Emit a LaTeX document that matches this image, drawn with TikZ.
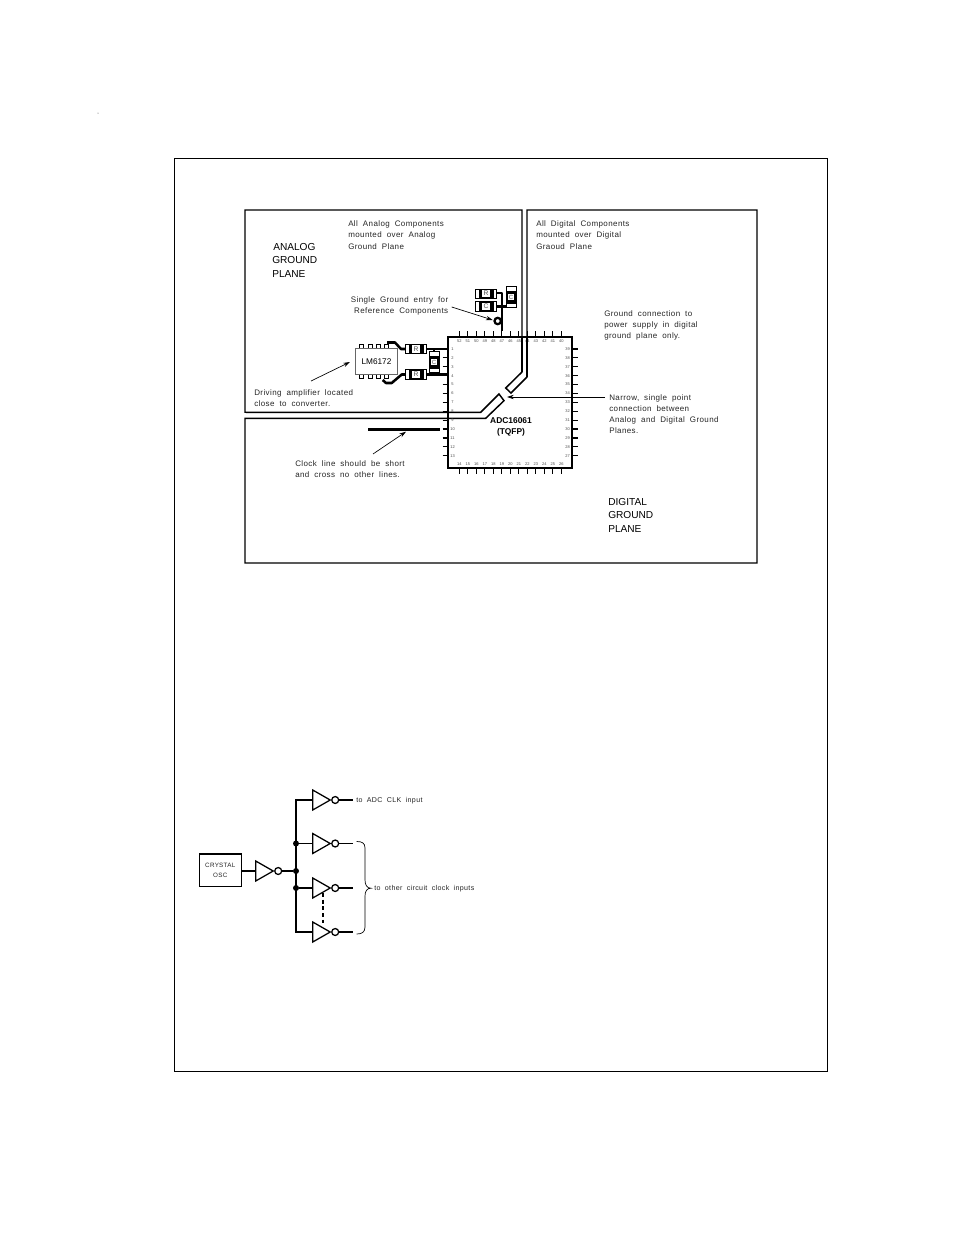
\documentclass[tikz,border=0pt]{standalone}
\usepackage{fontspec}
\setmainfont{Liberation Sans}
\newfontfamily\spaced[LetterSpace=5,WordSpace=1.9]{Liberation Sans}
\usetikzlibrary{arrows.meta,calc}
\tikzset{
  x=0.75pt,y=-0.75pt,
  plane/.style={line width=1.1pt,black,line join=miter},
  wire/.style={line width=0.95pt,black},
  fat/.style={line width=1.9pt,black,line join=round},
  pinl/.style={line width=0.9pt,black},
  note/.style={inner sep=0pt,anchor=west,font=\spaced\fontsize{6}{6}\selectfont,text=black!85},
  noter/.style={note,anchor=east},
  small/.style={note,font=\spaced\fontsize{5.3}{6}\selectfont},
  big/.style={inner sep=0pt,anchor=west,font=\fontsize{7.6}{8}\selectfont},
  num/.style={inner sep=0pt,font=\fontsize{3}{3}\selectfont,text=black!70},
  ptr/.style={line width=0.5pt,black,-{Stealth[length=5pt,width=3.2pt]}},
  part/.style={draw=black,line width=0.6pt,fill=white},
  dotn/.style={circle,fill=black,inner sep=0pt,minimum size=4.5pt},
}
\newcommand\hpart[4]{%
  \node[part,minimum width=16pt,minimum height=7pt,inner sep=0pt] (#1) at (#2,#3) {};
  \fill[black] (#2-7.5,#3-4.6) rectangle (#2+7.5,#3+4.6);
  \node[fill=white,inner sep=0pt,minimum width=5.5pt,minimum height=5.5pt,font=\fontsize{5}{5}\selectfont,text=black!70] (#1l) at (#2,#3) {#4};
}
\newcommand\vpart[4]{%
  \node[part,minimum width=7.4pt,minimum height=16pt,inner sep=0pt] (#1) at (#2,#3) {};
  \fill[black] (#2-4.9,#3-6.5) rectangle (#2+4.9,#3+6.5);
  \node[fill=white,inner sep=0pt,minimum width=5pt,minimum height=5pt,font=\fontsize{4.5}{5}\selectfont,text=black!70] (#1l) at (#2,#3) {#4};
}
\newcommand\invgate[3]{%
  \coordinate (#1in) at (#2,#3);
  \draw[wire,line join=miter] (#2,#3-10) -- (#2+17.5,#3) -- (#2,#3+10) -- cycle;
  \node[circle,draw=black,line width=0.95pt,inner sep=0pt,minimum size=5.2pt,fill=white] (#1b) at (#2+22.5,#3) {};
}
\begin{document}
\begin{tikzpicture}
\useasboundingbox (0,0) rectangle (954,1235);
\fill[white] (0,0) rectangle (954,1235);
\fill[black!70] (98,113) circle (0.5);
\draw[line width=0.6pt] (174,158) rectangle (827.5,1071);

% ground planes
\draw[plane] (245,412.3) -- (480.7,412.3) -- (499,394) -- (504,400.7) -- (485.7,418.3) -- (245,418.3) -- (245,563) -- (757,563) -- (757,210) -- (527,210) -- (527,377) -- (511,393) -- (505.7,388) -- (522,372) -- (522,210) -- (245,210) -- cycle;
\fill[white] (246,413.2) rectangle (244,417.4);

% chip
\draw[line width=1.3pt] (448.3,336.7) coordinate (chipnw) rectangle (572.3,468) coordinate (chipse);
\foreach \i/\t/\b in {0/52/14,1/51/15,2/50/16,3/49/17,4/48/18,5/47/19,6/46/20,7/45/21,8/44/22,9/43/23,10/42/24,11/41/25,12/40/26}{
  \pgfmathsetmacro\xx{459.3+8.5*\i}
  \draw[pinl] (\xx,331) -- (\xx,336.7);
  \draw[pinl] (\xx,468) -- (\xx,474);
  \node[num] at (\xx,341.5) {\t};
  \node[num] at (\xx,463.8) {\b};
}
\foreach \i/\l/\r in {0/1/39,1/2/38,2/3/37,3/4/36,4/5/35,5/6/34,6/7/33,7/8/32,8/9/31,9/10/30,10/11/29,11/12/28,12/13/27}{
  \pgfmathsetmacro\yy{349+8.89*\i}
  \draw[pinl] (442.5,\yy) -- (448.3,\yy);
  \draw[pinl] (572.3,\yy) -- (578,\yy);
  \node[num] at (452.5,\yy) {\l};
  \node[num] at (567.5,\yy) {\r};
}
\draw[plane] (522,336) -- (522,372);
\draw[plane] (527,336) -- (527,377);
\node[inner sep=0pt,align=center,font=\fontsize{6.3}{7.6}\selectfont\bfseries] (chiplabel) at (511,427) {ADC16061\\(TQFP)};

% reference components
\coordinate (gndtop) at (502,293);
\coordinate (gndbot) at (502,331);
\draw[fat] (497,293) -- (gndtop) -- (gndbot);
\draw[fat] (497,306.5) -- (507,306.5);
\node[circle,draw=black,line width=1.7pt,inner sep=0pt,minimum size=4.8pt,fill=white] (gndring) at (497.7,321) {};
\draw[fat] (gndring) -- (502,321);
\hpart{r1}{486}{293.7}{R}
\hpart{c1}{486}{306.5}{C}
\vpart{c2}{511}{297}{C}

% amplifier
\foreach \xx in {361.5,370,378,386.5}{
  \draw[line width=0.5pt] (\xx-2,344.5) rectangle (\xx+2,348.7);
  \draw[line width=0.5pt] (\xx-2,374.3) rectangle (\xx+2,378.5);
}
\node[draw=black!60,line width=0.8pt,fill=white,minimum width=31.2pt,minimum height=19.2pt,inner sep=0pt,font=\fontsize{6.2}{7}\selectfont] (amp) at (376.5,361.5) {LM6172};
\draw[fat] (387,342.5) -- (395,342.5) -- (401,349) -- (406,349);
\draw[fat] (382.7,380) -- (386,383) -- (391.7,383) -- (401.7,374.5) -- (406,374.5);
\draw[fat] (427,349) -- (448.3,349);
\draw[fat] (427,374.5) -- (448.3,374.5);
\draw[fat] (434,349) -- (434,374.5);
\hpart{r2}{416}{349}{R}
\hpart{r3}{416}{374.5}{R}
\vpart{c3}{434}{362}{C}

% clock line
\coordinate (clka) at (368,429.7);
\coordinate (clkb) at (440,429.7);
\draw[line width=2.3pt] (clka) -- (clkb);

% pointers
\coordinate (p1a) at (451.7,307); \coordinate (p1b) at (492.7,320);
\coordinate (p2a) at (311,381); \coordinate (p2b) at (350,362);
\coordinate (p3a) at (605,397); \coordinate (p3b) at (507,397);
\coordinate (p4a) at (373,454); \coordinate (p4b) at (406,431.7);
\draw[ptr] (p1a) -- (p1b);
\draw[ptr] (p2a) -- (p2b);
\draw[ptr] (p3a) -- (p3b);
\draw[ptr] (p4a) -- (p4b);

% notes
\node[note] (n1) at (348,224.5) {All Analog Components};
\node[note] (n2) at (348,235.5) {mounted over Analog};
\node[note] (n3) at (348,246.5) {Ground Plane};
\node[note] (n4) at (536,224.5) {All Digital Components};
\node[note] (n5) at (536,235.5) {mounted over Digital};
\node[note] (n6) at (536,246.5) {Graoud Plane};
\node[big] (a1) at (273,247) {ANALOG};
\node[big] (a2) at (272,260.5) {GROUND};
\node[big] (a3) at (272,274) {PLANE};
\node[noter] (n7) at (448.5,300) {Single Ground entry for};
\node[noter] (n8) at (448.5,311) {Reference Components};
\node[note] (n9) at (604,314) {Ground connection to};
\node[note] (n10) at (604,325) {power supply in digital};
\node[note] (n11) at (604,336) {ground plane only.};
\node[note] (n12) at (609,398) {Narrow, single point};
\node[note] (n13) at (609,409) {connection between};
\node[note] (n14) at (609,420) {Analog and Digital Ground};
\node[note] (n15) at (609,431) {Planes.};
\node[note] (n16) at (254,393) {Driving amplifier located};
\node[note] (n17) at (254,404) {close to converter.};
\node[note] (n18) at (295,464) {Clock line should be short};
\node[note] (n19) at (295,475) {and cross no other lines.};
\node[big] (d1) at (608,502) {DIGITAL};
\node[big] (d2) at (608,515.5) {GROUND};
\node[big] (d3) at (608,529) {PLANE};

% clock tree
\node[draw=black,line width=1.2pt,minimum width=31.5pt,minimum height=24.2pt,inner sep=0pt,align=center,font=\spaced\fontsize{4.7}{7.2}\selectfont,text=black!85] (osc) at (220.3,870.3) {CRYSTAL\\OSC};
\invgate{g0}{255.7}{871}
\invgate{g1}{312.7}{800}
\invgate{g2}{312.7}{843.5}
\invgate{g3}{312.7}{888}
\invgate{g4}{312.7}{932}
\coordinate (bust) at (296,800);
\coordinate (busb) at (296,932);
\node[dotn] (j2) at (296,843.5) {};
\node[dotn] (j0) at (296,871) {};
\node[dotn] (j3) at (296,888) {};
\draw[wire] (osc.east |- g0in) -- (g0in);
\draw[wire] (g0b) -- (j0);
\draw[wire] (g1in) -- (bust) -- (busb) -- (g4in);
\draw[wire] (j2) -- (g2in);
\draw[wire] (j3) -- (g3in);
\foreach \g/\yy in {g1/800,g2/843.5,g3/888,g4/932}{
  \coordinate (\g out) at (352.7,\yy);
  \draw[wire] (\g b) -- (\g out);
}
\coordinate (da) at (323,893); \coordinate (db) at (323,923);
\draw[wire,dash pattern=on 3pt off 2pt] (da) -- (db);
\coordinate (bt) at (356.7,841.5); \coordinate (bb) at (356.7,934); \coordinate (bm) at (371,888.2);
\draw[line width=0.5pt] (bt) .. controls (362,841.5) and (365,843) .. (365,848) -- (365,880) .. controls (365,885) and (367,888.2) .. (bm) .. controls (367,888.2) and (365,891) .. (365,896) -- (365,927) .. controls (365,932) and (362,934) .. (bb);
\node[small] (t1) at (356,800.3) {to ADC CLK input};
\node[small] (t2) at (374,888.3) {to other circuit clock inputs};
\end{tikzpicture}
\end{document}
